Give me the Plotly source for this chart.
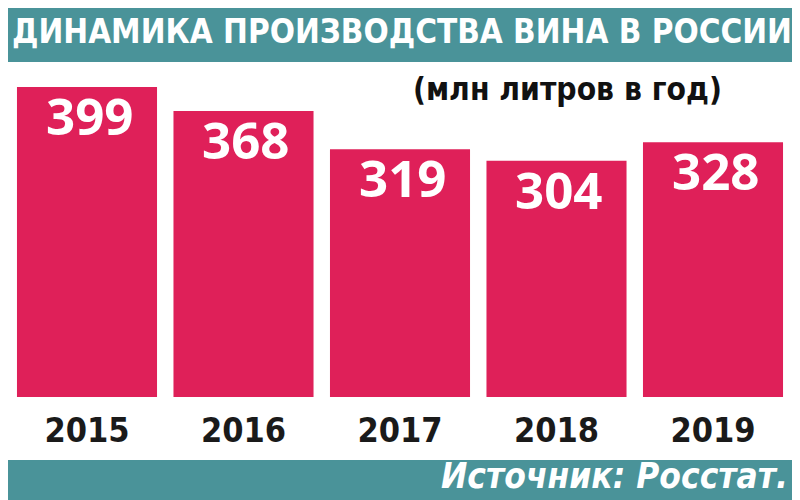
import plotly.graph_objects as go

years = ["2015", "2016", "2017", "2018", "2019"]
values = [399, 368, 319, 304, 328]

title_text = "ДИНАМИКА ПРОИЗВОДСТВА ВИНА В РОССИИ"
subtitle_text = "(млн литров в год)"
source_text = "Источник: Росстат."

BAR = "#DF2059"
TEAL = "#4A9399"
C = "DejaVu Sans Condensed, sans-serif"

W, H = 800, 500
OFF = 8  # page body margin


def px(x):
    return (x - OFF) / W


def py(y):
    return 1 - (y - OFF) / H


BASE = 397          # reference pixel of bar baseline
SCALE = 310 / 399   # pixels per unit

fig = go.Figure()
fig.add_trace(go.Bar(
    x=list(range(len(years))), y=values,
    marker=dict(color=BAR, line=dict(width=0)),
    hoverinfo="skip",
))

for i, v in enumerate(values):
    fig.add_annotation(
        x=i, y=v, xref="x", yref="y", text=str(v), showarrow=False,
        xanchor="center", yanchor="middle", yshift=-28, xshift=2,
        font=dict(family="Open Sans", size=51, color="white", weight="bold"),
    )

fig.add_shape(type="rect", xref="paper", yref="paper", x0=-0.05, x1=1.05, y0=py(62), y1=1.05,
              fillcolor=TEAL, line=dict(width=0), layer="below")
fig.add_shape(type="rect", xref="paper", yref="paper", x0=-0.05, x1=1.05, y0=-0.05, y1=py(460),
              fillcolor=TEAL, line=dict(width=0), layer="below")

fig.add_annotation(
    xref="paper", yref="paper", x=px(402), y=py(31), text=title_text, showarrow=False,
    xanchor="center", yanchor="middle",
    font=dict(family=C, size=33, color="white", weight="bold"),
)
fig.add_annotation(
    xref="paper", yref="paper", x=px(567), y=py(89), text=subtitle_text, showarrow=False,
    xanchor="center", yanchor="middle",
    font=dict(family=C, size=31.5, color="#111111", weight="bold"),
)
fig.add_annotation(
    xref="paper", yref="paper", x=px(790), y=py(476), text="<i>" + source_text + "</i>", showarrow=False,
    xanchor="right", yanchor="middle",
    font=dict(family=C, size=35, color="white", weight="bold"),
)

fig.update_layout(
    width=W, height=H,
    margin=dict(l=0, r=0, t=0, b=0, autoexpand=False),
    paper_bgcolor="white", plot_bgcolor="rgba(0,0,0,0)",
    bargap=0.105,
    showlegend=False,
    xaxis=dict(domain=[px(8.75), px(791.25)], range=[-0.5, 4.5],
               tickmode="array", tickvals=list(range(len(years))), ticktext=years,
               showgrid=False, zeroline=False, automargin=False,
               showline=False, ticks="", ticklabelstandoff=10,
               tickfont=dict(family=C, size=34, color="#1a1a1a", weight="bold")),
    yaxis=dict(domain=[py(BASE), 1], range=[0, (BASE - OFF) / SCALE], visible=False,
               automargin=False),
)

fig.write_html("out.html")
